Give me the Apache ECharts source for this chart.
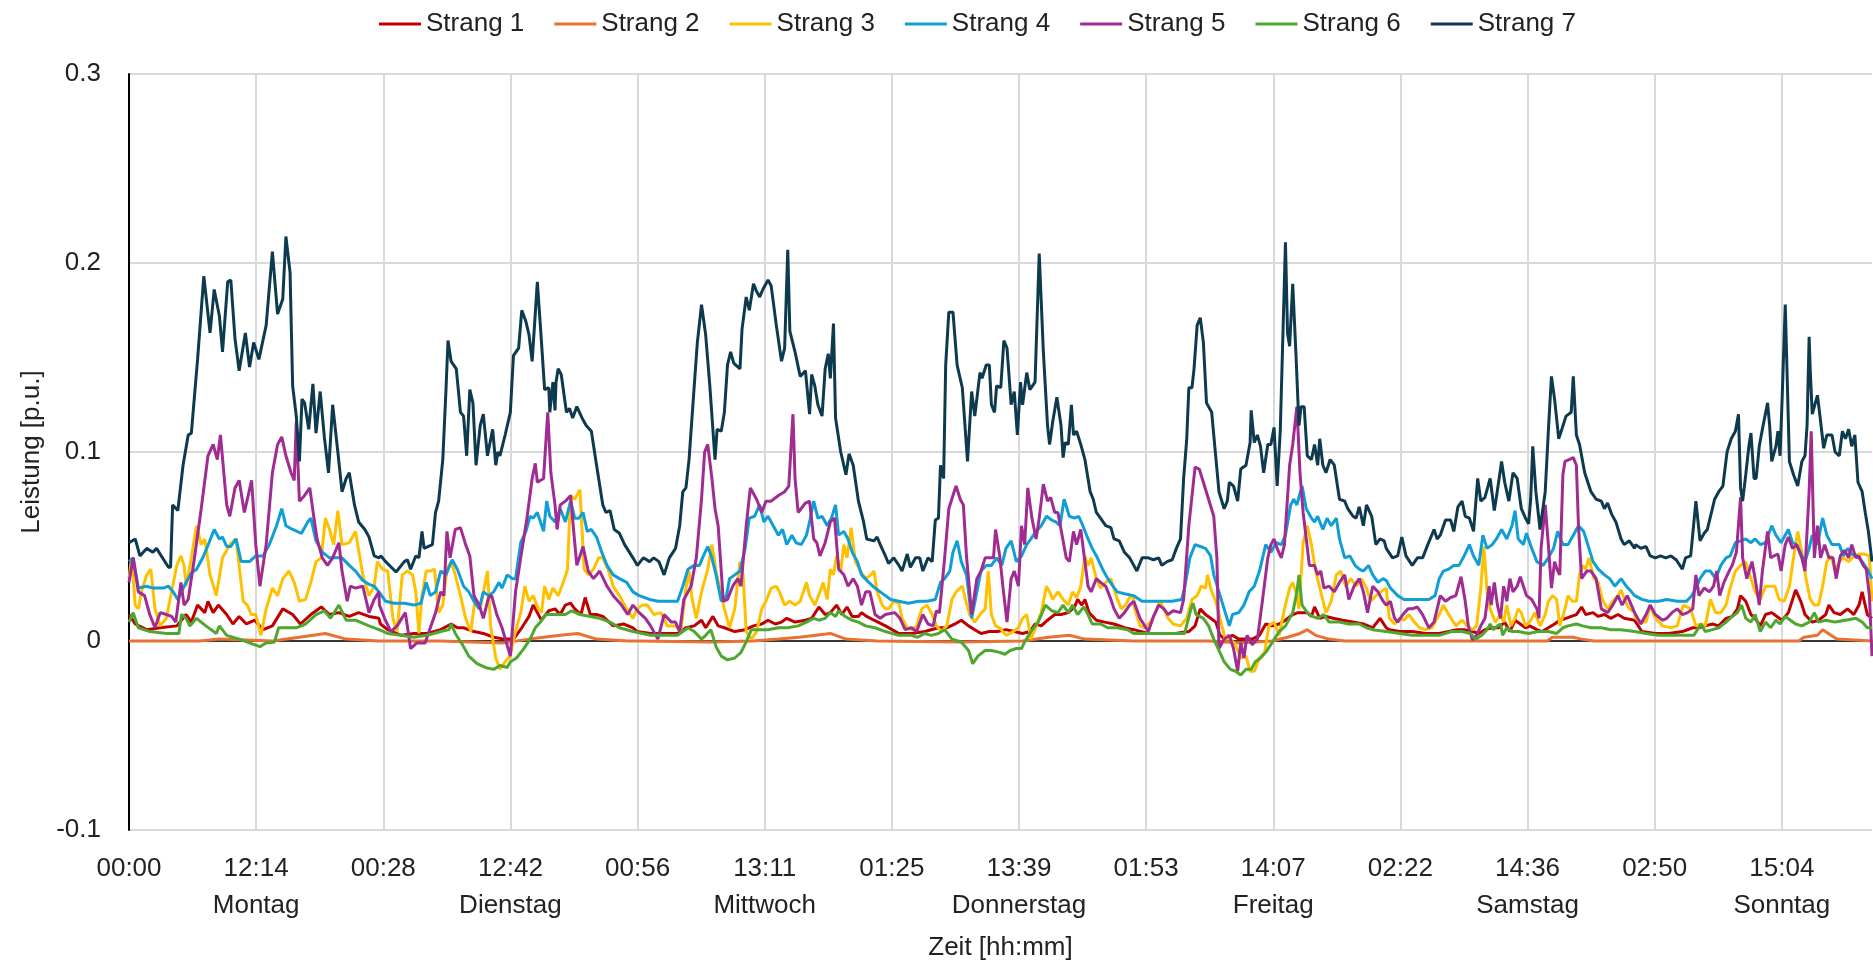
<!DOCTYPE html>
<html>
<head>
<meta charset="utf-8">
<script src="https://cdn.jsdelivr.net/npm/echarts@6/dist/echarts.min.js"></script>
<style>
  html, body { margin: 0; padding: 0; background: #fff; }
  #chart { width: 1873px; height: 964px; }
</style>
</head>
<body>
<div id="chart"></div>
<script>
// Zeit in Stunden ab Montag 00:00, Leistung in p.u.
const seriesNames = ['Strang 1', 'Strang 2', 'Strang 3', 'Strang 4', 'Strang 5', 'Strang 6', 'Strang 7'];
const seriesColors = ['#C00000', '#E97132', '#FFC000', '#0F9ED5', '#A02B93', '#4EA72E', '#0D3A4E'];

// x-Achse: Beschriftung alle 12:14 h
const tickStep = 734.17 / 60;
const tickLabels = ['00:00', '12:14', '00:28', '12:42', '00:56', '13:11', '01:25', '13:39', '01:53', '14:07', '02:22', '14:36', '02:50', '15:04'];
const dayNames = ['', 'Montag', '', 'Dienstag', '', 'Mittwoch', '', 'Donnerstag', '', 'Freitag', '', 'Samstag', '', 'Sonntag'];
const xMax = 167.75;

const strang1 = [
  [0,0.014],[0.6,0.009],[1.7,0.006],[3.0,0.007],[4.6,0.008],[5.5,0.014],[6.0,0.01],[6.6,0.019],[7.3,0.015],[7.6,0.021],[8.1,0.015],[8.6,0.019],[9.4,0.014],[10.0,0.009],[10.6,0.013],[11.3,0.009],[12.1,0.011],[12.9,0.006],[13.8,0.008],[14.8,0.017],[15.75,0.014],[16.5,0.009],[17.5,0.014],[18.5,0.018],[19.3,0.014],[20.2,0.015],[21.2,0.013],[22.1,0.015],[23.1,0.013],[24.05,0.012],
  [24.2,0.009],[24.9,0.006],[26.2,0.003],[27.4,0.004],[28.7,0.004],[30.0,0.006],[31.0,0.009],[31.6,0.007],[32.2,0.007],[33.2,0.005],[34.1,0.004],[35.1,0.002],[36.1,0.001],[37.0,0.001],[37.8,0.007],[38.5,0.013],[38.9,0.019],[39.3,0.015],[39.7,0.011],[40.4,0.016],[41.0,0.017],[41.5,0.014],[42.0,0.019],[42.5,0.02],[42.9,0.017],[43.5,0.014],[43.9,0.023],[44.4,0.014],[45.0,0.014],[45.6,0.013],[46.6,0.008],[47.6,0.009],[48.5,0.007],
  [48.9,0.005],[50.2,0.004],[51.5,0.004],[52.8,0.004],[53.6,0.007],[54.4,0.008],[55.1,0.011],[55.5,0.007],[56.2,0.013],[56.7,0.008],[57.3,0.007],[58.3,0.005],[59.3,0.006],[60.1,0.008],[60.9,0.009],[61.5,0.011],[62.2,0.009],[62.8,0.01],[63.3,0.012],[64.1,0.01],[65.1,0.011],[65.7,0.012],[66.4,0.018],[67.0,0.014],[67.5,0.015],[68.1,0.019],[68.6,0.014],[69.1,0.018],[69.6,0.013],[70.2,0.013],[70.5,0.015],[71.0,0.013],[71.7,0.011],[72.8,0.008],
  [74.1,0.004],[75.3,0.004],[76.6,0.005],[77.9,0.007],[78.7,0.007],[79.5,0.009],[80.1,0.011],[80.8,0.008],[81.4,0.006],[82.0,0.004],[82.8,0.005],[83.6,0.005],[84.4,0.006],[85.2,0.005],[86.0,0.004],[86.7,0.005],[87.2,0.009],[87.8,0.008],[88.4,0.011],[89.1,0.014],[89.7,0.014],[90.4,0.015],[91.0,0.018],[91.3,0.022],[91.7,0.019],[92.0,0.022],[92.4,0.015],[93.1,0.011],[93.9,0.01],[94.8,0.009],[95.8,0.007],[96.7,0.006],
  [98.1,0.004],[99.4,0.004],[100.7,0.004],[102.0,0.005],[102.6,0.008],[103.1,0.017],[103.6,0.014],[104.1,0.012],[104.6,0.01],[105.0,0.003],[105.5,0.001],[106.2,0.003],[106.8,0.001],[107.5,0.001],[108.1,0.001],[108.8,0.003],[109.4,0.009],[110.0,0.008],[110.7,0.009],[111.3,0.011],[112.0,0.014],[112.5,0.015],[113.0,0.015],[113.4,0.015],[113.8,0.013],[114.1,0.018],[114.6,0.012],[115.2,0.013],[115.9,0.012],[116.8,0.011],[117.8,0.01],[118.8,0.009],[119.7,0.007],[120.4,0.012],[121.0,0.007],
  [121.3,0.006],[122.3,0.005],[123.5,0.005],[124.8,0.004],[126.1,0.004],[127.0,0.005],[127.8,0.006],[128.5,0.006],[129.3,0.005],[129.9,0.004],[130.5,0.006],[131.2,0.007],[131.8,0.007],[132.4,0.01],[132.9,0.005],[133.4,0.011],[133.9,0.009],[134.4,0.007],[134.8,0.008],[135.5,0.006],[136.0,0.005],[136.6,0.007],[137.2,0.009],[137.7,0.011],[138.3,0.012],[138.8,0.013],[139.3,0.014],[139.8,0.018],[140.2,0.014],[140.9,0.015],[141.4,0.013],[142.0,0.014],[142.6,0.012],[143.3,0.014],[143.9,0.012],[144.9,0.011],
  [145.6,0.005],[146.9,0.004],[148.2,0.004],[149.5,0.005],[150.5,0.007],[151.1,0.007],[151.7,0.008],[152.4,0.009],[153.0,0.008],[153.7,0.012],[154.3,0.013],[154.8,0.017],[155.1,0.024],[155.6,0.021],[156.1,0.014],[156.5,0.012],[157.0,0.008],[157.5,0.014],[158.1,0.015],[158.6,0.013],[159.1,0.011],[159.7,0.015],[160.4,0.027],[160.9,0.021],[161.3,0.014],[162.0,0.01],[162.6,0.011],[163.3,0.014],[163.6,0.019],[164.1,0.015],[164.7,0.014],[165.4,0.017],[166.0,0.014],[166.5,0.019],[166.8,0.026],[167.3,0.014],[167.75,0.012]
];

const strang2 = [
  [0,0],[6.8,0],[8.7,0.001],[13.8,0],[16.4,0.002],[18.9,0.004],[20.9,0.001],[24,0],[30,0],[33,-0.0005],[36,-0.001],[38.5,0.001],[41.5,0.003],[43.2,0.004],[45,0.001],[48,0],
  [49,0],[56,-0.0005],[60,0],[62.5,0.001],[64.5,0.002],[67.5,0.004],[69,0.001],[72,0],[80,-0.0005],[86,0],[88.5,0.002],[90.5,0.003],[92,0.001],[96.7,0],
  [104,0],[107,-0.001],[110,0],[111.5,0.002],[112.7,0.004],[113.4,0.006],[114.2,0.003],[115.5,0.001],[117,0],[121,0],[136.5,0],[137,0.002],[139,0.002],[139.8,0.001],[141,0],[144.9,0],
  [160.7,0],[161.2,0.002],[162.5,0.003],[163,0.006],[163.8,0.003],[164.4,0.001],[167.75,0]
];

const strang3 = [
  [0,0.033],[0.25,0.044],[0.6,0.019],[0.9,0.017],[1.2,0.026],[1.7,0.035],[2.1,0.038],[2.5,0.017],[3.0,0.008],[3.6,0.012],[4.2,0.029],[4.6,0.04],[5.0,0.045],[5.3,0.04],[5.5,0.029],[6.0,0.044],[6.5,0.061],[6.95,0.051],[7.3,0.054],[7.8,0.035],[8.4,0.024],[9.0,0.044],[9.7,0.051],[10.3,0.054],[11.0,0.021],[11.4,0.019],[11.75,0.014],[12.2,0.014],[12.7,0.003],[13.2,0.017],[13.8,0.028],[14.3,0.024],[14.8,0.033],[15.4,0.037],[15.9,0.031],[16.4,0.021],[17.0,0.022],[17.5,0.031],[18.0,0.042],[18.5,0.044],[18.9,0.065],[19.3,0.059],[19.7,0.051],[20.1,0.069],[20.5,0.051],[21.2,0.052],[21.8,0.058],[22.5,0.035],[23.1,0.024],[23.6,0.029],[23.9,0.042],
  [24.4,0.038],[24.9,0.037],[25.4,0.012],[25.8,0.005],[26.3,0.035],[26.8,0.037],[27.3,0.035],[27.6,0.026],[27.9,0.004],[28.2,0.024],[28.6,0.037],[29.0,0.037],[29.4,0.038],[29.8,0.015],[30.2,0.019],[30.6,0.038],[31.0,0.042],[31.4,0.035],[31.9,0.024],[32.4,0.012],[32.9,0.005],[33.3,0.022],[33.8,0.017],[34.5,0.037],[34.8,0.008],[35.3,-0.009],[35.7,-0.015],[36.2,-0.011],[36.7,-0.008],[37.0,0.001],[37.7,0.015],[38.1,0.029],[38.5,0.021],[38.9,0.024],[39.4,0.017],[39.7,0.015],[40.0,0.029],[40.4,0.022],[40.8,0.028],[41.3,0.024],[41.8,0.031],[42.2,0.038],[42.5,0.077],[42.9,0.075],[43.4,0.08],[43.8,0.038],[44.2,0.035],[44.7,0.038],[45.2,0.044],[45.6,0.044],[46.1,0.038],[46.6,0.029],[47.2,0.024],[47.9,0.017],[48.5,0.012],
  [48.9,0.017],[49.4,0.019],[49.9,0.019],[50.5,0.014],[51.2,0.015],[51.8,0.008],[52.6,0.008],[53.1,0.005],[53.6,0.028],[53.9,0.037],[54.2,0.022],[54.6,0.012],[55.1,0.026],[55.7,0.038],[56.1,0.051],[56.5,0.037],[56.8,0.029],[57.3,0.017],[57.8,0.007],[58.3,0.017],[58.8,0.042],[59.1,0.035],[59.4,0.005],[59.9,0.001],[60.4,0.005],[60.9,0.017],[61.3,0.021],[61.8,0.028],[62.3,0.029],[62.6,0.026],[63.1,0.019],[63.6,0.021],[64.1,0.019],[64.6,0.021],[65.2,0.031],[65.5,0.024],[66.0,0.019],[66.5,0.026],[66.8,0.031],[67.2,0.022],[67.5,0.038],[67.8,0.035],[68.1,0.045],[68.5,0.037],[68.8,0.051],[69.1,0.044],[69.5,0.06],[69.9,0.042],[70.4,0.037],[70.9,0.033],[71.4,0.035],[71.7,0.037],[72.0,0.026],[72.5,0.019],[72.8,0.017],
  [73.1,0.017],[73.6,0.021],[74.1,0.02],[74.4,0.012],[74.9,0.007],[75.3,0.006],[75.8,0.008],[76.3,0.017],[76.8,0.019],[77.3,0.014],[77.7,0.008],[78.2,0.005],[78.7,0.008],[79.2,0.022],[79.6,0.026],[80.2,0.029],[80.5,0.022],[80.9,0.014],[81.4,0.01],[81.9,0.014],[82.4,0.017],[82.7,0.037],[83.0,0.014],[83.4,0.008],[83.8,0.007],[84.4,0.003],[85.1,0.005],[85.6,0.007],[86.0,0.012],[86.4,0.014],[86.8,0.001],[87.3,0.008],[87.8,0.015],[88.3,0.029],[88.6,0.026],[88.9,0.022],[89.4,0.026],[89.9,0.022],[90.4,0.019],[90.8,0.026],[91.2,0.023],[91.6,0.029],[92.0,0.045],[92.3,0.04],[92.6,0.044],[93.1,0.033],[93.5,0.028],[94.0,0.031],[94.5,0.033],[95.0,0.024],[95.5,0.017],[95.9,0.019],[96.4,0.024],[96.7,0.022],
  [96.8,0.017],[97.3,0.008],[97.8,0.007],[98.3,0.01],[98.8,0.015],[99.2,0.021],[99.6,0.017],[100.0,0.012],[100.5,0.009],[101.2,0.008],[101.8,0.012],[102.3,0.022],[102.8,0.024],[103.2,0.029],[103.6,0.028],[103.8,0.035],[104.2,0.026],[104.6,0.021],[105.0,0.012],[105.5,0.001],[106.0,0.001],[106.5,-0.002],[107.0,-0.009],[107.5,-0.008],[107.9,-0.016],[108.3,-0.016],[108.8,-0.009],[109.3,-0.006],[109.7,0.008],[110.2,0.01],[110.7,0.003],[111.2,0.017],[111.7,0.028],[112.0,0.031],[112.3,0.026],[112.6,0.017],[113.0,0.052],[113.4,0.061],[113.8,0.051],[114.2,0.037],[114.7,0.026],[115.2,0.015],[115.7,0.021],[116.2,0.035],[116.6,0.037],[117.1,0.029],[117.6,0.033],[118.1,0.029],[118.6,0.033],[119.1,0.028],[119.5,0.021],[120.0,0.024],[120.5,0.026],[121.0,0.028],
  [121.3,0.012],[121.8,0.009],[122.3,0.012],[122.7,0.011],[123.2,0.014],[123.7,0.01],[124.2,0.007],[124.8,0.006],[125.4,0.007],[126.1,0.014],[126.5,0.019],[127.0,0.014],[127.7,0.008],[128.3,0.011],[128.8,0.008],[129.3,0.006],[129.7,0.008],[130.1,0.028],[130.4,0.05],[130.7,0.026],[131.0,0.017],[131.5,0.01],[132.0,0.014],[132.3,0.01],[132.6,0.019],[133.0,0.008],[133.4,0.012],[133.7,0.017],[134.0,0.015],[134.4,0.008],[134.8,0.01],[135.3,0.015],[135.8,0.008],[136.3,0.014],[136.6,0.021],[137.0,0.024],[137.4,0.022],[137.7,0.008],[138.1,0.015],[138.5,0.024],[138.9,0.021],[139.3,0.021],[139.6,0.035],[139.9,0.04],[140.2,0.038],[140.5,0.044],[141.0,0.033],[141.4,0.031],[141.8,0.022],[142.3,0.017],[142.8,0.021],[143.3,0.024],[143.6,0.027],[144.0,0.021],[144.4,0.017],[144.9,0.015],
  [145.0,0.012],[145.6,0.01],[146.0,0.01],[146.4,0.019],[146.9,0.012],[147.6,0.008],[148.4,0.007],[149.0,0.008],[149.6,0.019],[150.3,0.017],[150.8,0.008],[151.3,0.009],[151.7,0.008],[152.2,0.022],[152.7,0.015],[153.2,0.015],[153.7,0.019],[154.1,0.028],[154.6,0.037],[155.1,0.04],[155.6,0.042],[156.1,0.033],[156.5,0.026],[157.0,0.022],[157.5,0.029],[158.0,0.029],[158.4,0.029],[158.8,0.022],[159.3,0.021],[159.8,0.029],[160.2,0.044],[160.6,0.058],[161.0,0.047],[161.4,0.033],[161.8,0.022],[162.2,0.019],[162.6,0.019],[163.0,0.029],[163.4,0.042],[163.8,0.045],[164.2,0.037],[164.6,0.042],[165.0,0.044],[165.5,0.042],[166.0,0.045],[166.5,0.046],[167.0,0.046],[167.5,0.045],[167.75,0.021]
];

const strang4 = [
  [0,0.042],[0.4,0.044],[0.9,0.028],[1.7,0.029],[2.3,0.028],[3.3,0.028],[3.8,0.029],[4.25,0.026],[4.7,0.022],[5.4,0.03],[6.0,0.036],[6.5,0.038],[7.1,0.044],[7.7,0.052],[8.2,0.059],[8.7,0.054],[9.0,0.055],[9.4,0.05],[9.8,0.05],[10.3,0.054],[10.8,0.042],[11.6,0.042],[12.2,0.045],[12.9,0.045],[13.5,0.051],[14.2,0.061],[14.7,0.07],[15.1,0.061],[15.75,0.059],[16.6,0.057],[17.2,0.063],[17.5,0.065],[18.0,0.053],[18.6,0.047],[19.3,0.044],[19.9,0.044],[20.5,0.044],[21.2,0.04],[21.8,0.037],[22.5,0.032],[23.1,0.03],[23.6,0.029],[24.05,0.026],
  [24.7,0.021],[25.5,0.02],[26.5,0.02],[27.4,0.019],[28.1,0.02],[28.6,0.031],[29.0,0.024],[29.5,0.026],[30.0,0.037],[30.5,0.035],[31.1,0.043],[31.6,0.038],[32.2,0.029],[32.7,0.026],[33.2,0.021],[33.7,0.017],[34.1,0.026],[34.6,0.024],[35.1,0.026],[35.6,0.031],[35.9,0.028],[36.4,0.035],[36.9,0.033],[37.2,0.033],[37.7,0.052],[38.2,0.058],[38.6,0.066],[38.9,0.065],[39.3,0.068],[39.9,0.058],[40.2,0.074],[40.5,0.066],[41.0,0.063],[41.5,0.07],[42.0,0.063],[42.5,0.074],[42.9,0.065],[43.3,0.065],[43.7,0.068],[44.1,0.058],[44.5,0.059],[45.0,0.055],[45.5,0.047],[46.0,0.04],[46.6,0.035],[47.2,0.033],[47.9,0.031],[48.5,0.026],
  [49.1,0.024],[50.1,0.022],[50.9,0.021],[51.8,0.021],[52.8,0.021],[53.3,0.029],[53.8,0.038],[54.4,0.04],[54.9,0.04],[55.2,0.044],[55.7,0.05],[56.1,0.044],[56.5,0.035],[57.0,0.021],[57.5,0.024],[57.8,0.033],[58.3,0.035],[58.8,0.037],[59.3,0.049],[59.7,0.065],[60.2,0.066],[60.7,0.072],[61.1,0.063],[61.5,0.066],[62.0,0.061],[62.5,0.056],[62.9,0.059],[63.3,0.051],[63.8,0.056],[64.2,0.052],[64.7,0.051],[65.2,0.056],[65.5,0.063],[65.9,0.074],[66.3,0.065],[66.7,0.066],[67.2,0.061],[67.6,0.065],[68.0,0.072],[68.3,0.056],[68.8,0.058],[69.2,0.054],[69.6,0.047],[70.1,0.042],[70.5,0.035],[71.2,0.031],[71.8,0.028],[72.3,0.026],[72.8,0.024],
  [73.3,0.022],[74.1,0.021],[75.0,0.02],[76.0,0.021],[76.8,0.021],[77.6,0.022],[78.1,0.031],[78.5,0.033],[79.0,0.037],[79.3,0.047],[79.7,0.053],[80.1,0.042],[80.6,0.035],[81.1,0.012],[81.6,0.026],[82.0,0.037],[82.5,0.04],[83.0,0.04],[83.5,0.044],[84.0,0.04],[84.4,0.049],[84.9,0.053],[85.4,0.042],[85.9,0.045],[86.4,0.051],[86.8,0.054],[87.3,0.058],[87.8,0.061],[88.3,0.066],[88.8,0.064],[89.2,0.063],[89.6,0.061],[90.0,0.075],[90.5,0.066],[91.0,0.065],[91.4,0.066],[91.8,0.061],[92.3,0.054],[92.7,0.049],[93.2,0.044],[93.7,0.038],[94.2,0.033],[94.7,0.029],[95.1,0.026],[95.8,0.025],[96.7,0.024],
  [97.5,0.021],[98.4,0.021],[99.4,0.021],[100.4,0.021],[101.3,0.022],[101.6,0.028],[102.1,0.044],[102.6,0.051],[103.1,0.05],[103.6,0.049],[104.1,0.045],[104.4,0.035],[104.9,0.026],[105.4,0.017],[105.9,0.008],[106.2,0.014],[106.8,0.015],[107.3,0.019],[107.8,0.026],[108.3,0.029],[108.8,0.037],[109.1,0.044],[109.4,0.051],[109.9,0.047],[110.4,0.052],[110.9,0.051],[111.3,0.056],[111.8,0.072],[112.1,0.075],[112.4,0.072],[112.9,0.082],[113.3,0.07],[113.8,0.065],[114.1,0.063],[114.4,0.066],[114.9,0.059],[115.3,0.065],[115.7,0.061],[116.2,0.065],[116.5,0.054],[117.0,0.044],[117.5,0.045],[118.0,0.04],[118.4,0.038],[118.8,0.037],[119.3,0.04],[119.7,0.035],[120.2,0.031],[120.7,0.033],[121.0,0.032],
  [121.4,0.028],[122.1,0.024],[122.7,0.022],[123.5,0.022],[124.3,0.022],[125.1,0.022],[125.7,0.024],[126.1,0.033],[126.5,0.037],[127.0,0.038],[127.5,0.04],[128.0,0.04],[128.5,0.045],[129.0,0.051],[129.4,0.045],[129.9,0.04],[130.3,0.056],[130.7,0.049],[131.2,0.051],[131.6,0.054],[132.1,0.059],[132.6,0.054],[133.1,0.061],[133.4,0.069],[133.7,0.054],[134.2,0.051],[134.5,0.057],[135.0,0.049],[135.5,0.042],[136.1,0.04],[136.6,0.044],[137.1,0.049],[137.5,0.058],[138.0,0.051],[138.5,0.051],[139.0,0.056],[139.5,0.061],[140.0,0.058],[140.4,0.051],[140.9,0.042],[141.4,0.038],[142.0,0.035],[142.5,0.033],[143.0,0.029],[143.6,0.033],[144.1,0.029],[144.6,0.026],[144.9,0.024],
  [145.6,0.022],[146.3,0.021],[147.2,0.021],[148.0,0.022],[149.0,0.021],[149.9,0.021],[150.4,0.024],[150.8,0.028],[151.2,0.033],[151.7,0.037],[152.2,0.037],[152.7,0.033],[153.2,0.04],[153.7,0.044],[154.1,0.045],[154.6,0.052],[155.1,0.053],[155.6,0.054],[156.1,0.052],[156.5,0.054],[157.0,0.051],[157.5,0.052],[158.1,0.061],[158.5,0.056],[159.0,0.052],[159.7,0.059],[160.1,0.052],[160.5,0.051],[161.0,0.045],[161.3,0.042],[161.7,0.049],[162.0,0.056],[162.5,0.051],[163.0,0.065],[163.4,0.056],[163.9,0.051],[164.6,0.051],[165.0,0.045],[165.4,0.049],[165.8,0.046],[166.3,0.045],[166.8,0.042],[167.3,0.038],[167.75,0.033]
];

const strang5 = [
  [0,0.031],[0.4,0.044],[0.9,0.026],[1.5,0.024],[2.0,0.014],[2.5,0.007],[3.0,0.015],[3.6,0.014],[4.1,0.013],[4.5,0.01],[5.0,0.031],[5.3,0.019],[5.7,0.022],[6.3,0.044],[6.95,0.07],[7.6,0.098],[8.1,0.104],[8.5,0.096],[8.8,0.109],[9.4,0.072],[9.7,0.066],[10.2,0.081],[10.6,0.085],[11.1,0.068],[11.8,0.085],[12.2,0.051],[12.6,0.029],[13.2,0.051],[13.8,0.089],[14.3,0.104],[14.7,0.108],[15.1,0.098],[15.6,0.089],[15.9,0.085],[16.1,0.116],[16.4,0.074],[16.9,0.077],[17.4,0.081],[17.8,0.065],[18.1,0.054],[18.6,0.044],[19.1,0.04],[19.6,0.044],[20.2,0.052],[20.5,0.037],[21.0,0.021],[21.3,0.029],[21.8,0.028],[22.5,0.029],[23.1,0.015],[23.6,0.022],[24.05,0.026],
  [24.1,0.019],[24.6,0.012],[25.2,0.005],[25.8,0.008],[26.6,0.015],[27.1,-0.004],[27.7,-0.001],[28.5,-0.001],[29.0,0.007],[29.5,0.015],[30.0,0.026],[30.3,0.024],[30.6,0.058],[30.9,0.044],[31.4,0.059],[31.9,0.06],[32.4,0.051],[32.8,0.045],[33.2,0.024],[33.7,0.019],[34.1,0.012],[34.6,0.023],[34.9,0.024],[35.4,0.014],[35.9,0.007],[36.7,-0.008],[37.2,0.026],[37.7,0.044],[38.3,0.065],[38.8,0.086],[39.1,0.094],[39.3,0.084],[39.9,0.086],[40.3,0.121],[40.6,0.089],[41.0,0.072],[41.2,0.059],[41.5,0.072],[42.0,0.074],[42.5,0.077],[42.8,0.058],[43.1,0.04],[43.7,0.05],[44.2,0.037],[44.7,0.033],[45.3,0.037],[46.0,0.029],[46.6,0.024],[47.4,0.019],[48.0,0.014],[48.5,0.019],
  [49.1,0.015],[49.7,0.012],[50.2,0.008],[50.9,0.001],[51.5,0.014],[52.2,0.01],[52.6,0.01],[53.0,0.005],[53.4,0.022],[54.1,0.029],[54.6,0.044],[55.1,0.075],[55.4,0.1],[55.7,0.104],[56.1,0.086],[56.4,0.07],[56.7,0.061],[57.2,0.021],[57.6,0.022],[58.1,0.029],[58.6,0.033],[58.9,0.029],[59.4,0.061],[59.8,0.081],[60.4,0.075],[60.9,0.068],[61.3,0.074],[61.8,0.074],[62.5,0.077],[63.1,0.079],[63.5,0.082],[63.9,0.12],[64.1,0.086],[64.4,0.068],[65.1,0.073],[65.5,0.074],[65.9,0.054],[66.2,0.052],[66.5,0.045],[67.0,0.052],[67.5,0.063],[67.9,0.065],[68.3,0.038],[68.8,0.035],[69.2,0.029],[69.7,0.033],[70.1,0.029],[70.5,0.019],[70.9,0.026],[71.3,0.026],[71.8,0.014],[72.3,0.012],[72.8,0.014],
  [73.7,0.015],[74.2,0.012],[74.7,0.006],[75.3,0.007],[75.8,0.005],[76.4,0.014],[76.9,0.009],[77.4,0.008],[77.7,0.016],[78.0,0.015],[78.5,0.044],[78.9,0.07],[79.3,0.077],[79.6,0.082],[80.0,0.075],[80.3,0.072],[80.6,0.045],[81.1,0.014],[81.6,0.033],[82.0,0.037],[82.4,0.044],[82.8,0.044],[83.2,0.044],[83.4,0.059],[83.8,0.045],[84.1,0.029],[84.5,0.01],[84.9,0.033],[85.2,0.037],[85.6,0.029],[85.9,0.061],[86.2,0.051],[86.5,0.081],[86.9,0.065],[87.3,0.054],[87.6,0.065],[88.0,0.083],[88.4,0.074],[88.7,0.076],[89.1,0.068],[89.4,0.068],[89.7,0.059],[90.2,0.044],[90.5,0.042],[90.9,0.058],[91.2,0.051],[91.6,0.059],[92.0,0.042],[92.3,0.029],[92.6,0.026],[93.1,0.033],[93.5,0.031],[94.0,0.029],[94.5,0.022],[94.8,0.017],[95.3,0.012],[95.8,0.015],[96.3,0.019],[96.7,0.021],
  [97.3,0.012],[98.1,0.005],[98.6,0.013],[99.1,0.019],[99.6,0.017],[100.0,0.014],[100.5,0.016],[101.2,0.015],[101.5,0.022],[102.0,0.061],[102.6,0.092],[103.0,0.091],[103.4,0.084],[103.9,0.075],[104.4,0.066],[104.7,0.044],[104.9,-0.004],[105.4,0.001],[105.9,0.003],[106.3,-0.004],[106.7,-0.016],[107.0,-0.001],[107.3,-0.009],[107.6,0.003],[108.1,-0.002],[108.6,0.001],[109.1,0.022],[109.6,0.044],[109.9,0.051],[110.2,0.054],[110.5,0.049],[110.9,0.044],[111.2,0.051],[111.7,0.093],[112.0,0.104],[112.4,0.124],[112.7,0.089],[113.0,0.068],[113.3,0.054],[113.6,0.04],[114.1,0.04],[114.4,0.035],[114.7,0.037],[115.0,0.028],[115.5,0.029],[116.0,0.026],[116.5,0.031],[117.0,0.035],[117.4,0.022],[117.9,0.029],[118.4,0.033],[118.8,0.026],[119.2,0.015],[119.7,0.029],[120.2,0.026],[120.7,0.021],[121.0,0.019],
  [121.4,0.021],[121.8,0.012],[122.1,0.01],[122.6,0.014],[123.1,0.017],[123.5,0.017],[124.0,0.018],[124.5,0.014],[125.1,0.007],[125.6,0.01],[126.2,0.024],[126.7,0.021],[127.2,0.023],[127.7,0.024],[128.2,0.034],[128.6,0.021],[128.9,0.008],[129.3,0.0005],[129.7,0.003],[130.1,0.008],[130.5,0.012],[130.9,0.029],[131.1,0.019],[131.4,0.031],[131.7,0.019],[132.0,0.012],[132.3,0.029],[132.6,0.021],[132.9,0.033],[133.2,0.026],[133.6,0.029],[133.9,0.034],[134.2,0.029],[134.5,0.024],[135.0,0.022],[135.5,0.017],[135.7,0.012],[135.9,0.049],[136.3,0.072],[136.6,0.051],[136.9,0.028],[137.2,0.042],[137.5,0.037],[137.7,0.035],[138.0,0.088],[138.2,0.095],[138.6,0.096],[139.0,0.097],[139.3,0.093],[139.5,0.061],[139.8,0.033],[140.3,0.037],[140.7,0.037],[141.2,0.033],[141.7,0.017],[142.3,0.015],[142.8,0.019],[143.3,0.024],[143.7,0.019],[144.2,0.024],[144.9,0.015],
  [145.5,0.009],[146.0,0.014],[146.4,0.019],[146.9,0.014],[147.6,0.011],[148.0,0.012],[148.5,0.015],[149.0,0.017],[149.5,0.014],[150.0,0.015],[150.5,0.017],[150.8,0.035],[151.1,0.024],[151.6,0.028],[152.1,0.026],[152.5,0.029],[152.8,0.037],[153.1,0.024],[153.5,0.031],[154.0,0.037],[154.3,0.04],[154.7,0.047],[155.1,0.076],[155.3,0.044],[155.7,0.033],[156.2,0.042],[156.5,0.033],[156.9,0.019],[157.2,0.037],[157.7,0.058],[158.0,0.044],[158.3,0.045],[158.7,0.046],[159.0,0.037],[159.4,0.051],[159.7,0.055],[160.1,0.049],[160.5,0.051],[161.0,0.044],[161.3,0.037],[161.7,0.079],[161.9,0.111],[162.2,0.044],[162.5,0.061],[162.8,0.044],[163.2,0.051],[163.6,0.044],[164.0,0.044],[164.3,0.033],[164.7,0.045],[165.1,0.048],[165.5,0.044],[165.8,0.051],[166.2,0.044],[166.5,0.045],[166.9,0.04],[167.2,0.038],[167.5,0.024],[167.75,-0.008]
];

const strang6 = [
  [0,0.01],[0.4,0.015],[0.9,0.007],[2.0,0.005],[3.6,0.004],[4.8,0.004],[5.05,0.014],[5.5,0.012],[5.85,0.008],[6.5,0.012],[7.4,0.008],[8.4,0.004],[8.7,0.008],[9.4,0.003],[10.6,0.001],[11.6,-0.001],[12.6,-0.003],[13.2,-0.001],[14.0,-0.0005],[14.4,0.007],[15.1,0.007],[16.1,0.007],[17.0,0.009],[18.0,0.014],[18.8,0.016],[19.4,0.012],[20.2,0.019],[20.9,0.011],[21.8,0.011],[23.1,0.008],[24.05,0.006],
  [24.9,0.004],[26.2,0.003],[27.4,0.002],[28.7,0.003],[30.0,0.005],[30.8,0.006],[31.0,0.009],[31.4,0.004],[32.1,-0.002],[32.7,-0.008],[33.5,-0.012],[34.3,-0.014],[35.1,-0.015],[35.7,-0.013],[36.4,-0.014],[36.7,-0.011],[37.3,-0.009],[38.0,-0.004],[38.6,0.001],[39.1,0.007],[39.6,0.01],[40.1,0.014],[40.5,0.014],[41.2,0.014],[42.0,0.014],[42.6,0.016],[43.4,0.014],[44.4,0.013],[45.3,0.012],[46.3,0.01],[47.2,0.007],[48.5,0.005],
  [50.2,0.003],[51.5,0.003],[52.8,0.003],[53.8,0.007],[54.4,0.005],[55.1,0.001],[55.5,0.003],[56.0,0.006],[56.5,-0.003],[57.0,-0.008],[57.6,-0.01],[58.3,-0.009],[58.9,-0.006],[59.4,-0.0005],[59.9,0.006],[60.5,0.006],[61.5,0.006],[62.5,0.007],[63.4,0.007],[64.4,0.008],[65.2,0.01],[65.9,0.012],[66.4,0.011],[67.0,0.012],[67.5,0.015],[68.0,0.013],[68.3,0.016],[68.9,0.013],[69.6,0.011],[70.2,0.01],[70.9,0.008],[71.8,0.007],[72.8,0.005],
  [74.1,0.003],[75.3,0.003],[75.9,0.002],[76.6,0.004],[77.2,0.003],[77.9,0.004],[78.5,0.006],[79.2,0.001],[80.1,-0.0005],[80.8,-0.005],[81.2,-0.012],[81.7,-0.008],[82.4,-0.005],[83.0,-0.005],[83.8,-0.006],[84.3,-0.007],[84.8,-0.005],[85.4,-0.004],[85.9,-0.004],[86.2,-0.0005],[86.8,0.005],[87.5,0.01],[88.2,0.019],[88.8,0.016],[89.4,0.015],[89.9,0.019],[90.4,0.015],[90.8,0.019],[91.3,0.014],[91.9,0.018],[92.3,0.014],[92.7,0.009],[93.5,0.009],[94.2,0.007],[95.1,0.007],[96.1,0.006],[96.7,0.004],
  [98.1,0.004],[99.4,0.004],[100.7,0.004],[101.6,0.004],[102.2,0.017],[102.4,0.02],[102.7,0.014],[103.4,0.012],[103.9,0.008],[104.4,0.001],[104.9,-0.005],[105.4,-0.011],[106.0,-0.015],[106.5,-0.016],[107.0,-0.018],[107.5,-0.015],[108.0,-0.015],[108.4,-0.011],[108.9,-0.009],[109.4,-0.006],[110.0,-0.001],[110.7,0.005],[111.3,0.008],[112.0,0.015],[112.4,0.026],[112.6,0.035],[112.9,0.019],[113.4,0.015],[113.9,0.013],[114.4,0.012],[115.0,0.014],[115.5,0.01],[116.5,0.01],[117.4,0.009],[118.4,0.009],[119.1,0.007],[119.7,0.006],[121.0,0.005],
  [122.3,0.004],[123.5,0.003],[124.8,0.003],[126.1,0.003],[127.3,0.005],[128.3,0.005],[129.1,0.004],[129.6,0.001],[130.2,0.003],[130.7,0.006],[131.0,0.009],[131.3,0.006],[131.7,0.008],[132.0,0.009],[132.2,0.003],[132.6,0.007],[133.1,0.005],[133.7,0.005],[134.7,0.004],[135.6,0.005],[136.6,0.005],[137.4,0.004],[138.0,0.007],[138.5,0.008],[139.3,0.009],[139.9,0.008],[140.7,0.007],[141.7,0.007],[142.6,0.006],[143.6,0.006],[144.9,0.005],
  [146.0,0.004],[147.2,0.003],[148.5,0.003],[149.8,0.003],[150.6,0.003],[151.3,0.009],[151.7,0.005],[152.4,0.006],[153.0,0.007],[153.7,0.01],[154.3,0.013],[154.8,0.015],[155.2,0.019],[155.6,0.012],[156.1,0.01],[156.5,0.014],[157.0,0.005],[157.5,0.01],[158.0,0.007],[158.5,0.011],[158.9,0.009],[159.4,0.013],[159.9,0.011],[160.4,0.009],[161.0,0.008],[161.7,0.01],[162.2,0.015],[162.6,0.01],[163.3,0.011],[164.2,0.01],[165.2,0.011],[166.2,0.012],[166.8,0.01],[167.3,0.007],[167.75,0.007]
];

const strang7 = [
  [0,0.052],[0.6,0.054],[1.05,0.045],[1.7,0.049],[2.3,0.047],[2.65,0.049],[3.8,0.039],[4.0,0.039],[4.2,0.072],[4.7,0.069],[5.2,0.093],[5.7,0.109],[6.0,0.11],[6.6,0.149],[7.2,0.193],[7.8,0.163],[8.2,0.186],[8.7,0.172],[9.0,0.153],[9.5,0.19],[9.8,0.191],[10.2,0.16],[10.6,0.143],[11.2,0.163],[11.6,0.145],[12.0,0.158],[12.5,0.149],[13.2,0.167],[13.8,0.206],[14.3,0.173],[14.8,0.181],[15.1,0.214],[15.5,0.195],[15.75,0.135],[16.1,0.119],[16.4,0.095],[16.65,0.128],[16.9,0.126],[17.3,0.112],[17.7,0.136],[18.0,0.11],[18.4,0.132],[18.8,0.108],[19.2,0.089],[19.6,0.125],[20.1,0.1],[20.5,0.079],[20.9,0.086],[21.2,0.089],[21.7,0.072],[22.1,0.063],[22.7,0.059],[23.1,0.055],[23.6,0.045],[24.05,0.044],
  [24.25,0.045],[24.7,0.042],[25.7,0.0365],[26.5,0.042],[26.8,0.043],[27.1,0.038],[27.6,0.045],[27.9,0.044],[28.2,0.058],[28.4,0.049],[29.2,0.051],[29.5,0.068],[29.8,0.074],[30.2,0.096],[30.5,0.132],[30.7,0.159],[31.0,0.148],[31.5,0.144],[31.9,0.121],[32.2,0.119],[32.5,0.098],[32.8,0.133],[33.1,0.126],[33.4,0.093],[33.8,0.114],[34.1,0.12],[34.5,0.098],[35.0,0.112],[35.3,0.093],[35.5,0.1],[35.7,0.098],[36.2,0.109],[36.7,0.121],[37.0,0.151],[37.5,0.155],[37.8,0.175],[38.2,0.169],[38.5,0.162],[38.8,0.148],[39.3,0.19],[39.7,0.158],[40.0,0.133],[40.4,0.134],[40.5,0.121],[40.8,0.137],[41.0,0.122],[41.1,0.137],[41.3,0.144],[41.6,0.141],[42.1,0.121],[42.4,0.123],[42.7,0.118],[43.1,0.124],[43.6,0.118],[44.0,0.114],[44.5,0.111],[45.0,0.093],[45.6,0.072],[45.9,0.068],[46.3,0.069],[46.7,0.059],[47.2,0.057],[47.7,0.051],[48.5,0.044],
  [48.93,0.04],[49.5,0.044],[50.1,0.042],[50.5,0.044],[51.0,0.042],[51.5,0.035],[52.0,0.044],[52.6,0.049],[53.0,0.061],[53.3,0.079],[53.6,0.081],[53.9,0.096],[54.4,0.135],[54.7,0.158],[55.1,0.178],[55.5,0.162],[55.9,0.135],[56.4,0.096],[56.6,0.112],[57.0,0.111],[57.3,0.121],[57.6,0.146],[57.9,0.153],[58.2,0.147],[58.8,0.144],[59.0,0.165],[59.4,0.182],[59.7,0.175],[60.1,0.189],[60.4,0.185],[60.7,0.182],[61.0,0.186],[61.5,0.191],[61.8,0.188],[62.3,0.167],[62.8,0.148],[63.1,0.155],[63.4,0.207],[63.6,0.164],[64.1,0.153],[64.6,0.14],[65.1,0.143],[65.5,0.12],[65.7,0.141],[66.0,0.135],[66.3,0.125],[66.7,0.119],[67.0,0.144],[67.3,0.152],[67.5,0.139],[67.8,0.168],[68.0,0.118],[68.5,0.1],[69.0,0.088],[69.3,0.099],[69.7,0.093],[70.2,0.074],[70.7,0.063],[71.0,0.054],[71.7,0.053],[72.0,0.055],[72.3,0.051],[72.8,0.045],
  [73.1,0.041],[73.6,0.044],[74.1,0.04],[74.4,0.037],[74.9,0.046],[75.2,0.039],[75.7,0.044],[76.1,0.044],[76.4,0.037],[76.9,0.044],[77.3,0.042],[77.6,0.064],[77.9,0.065],[78.1,0.093],[78.4,0.086],[78.6,0.146],[78.9,0.174],[79.3,0.174],[79.7,0.146],[80.2,0.134],[80.7,0.095],[81.1,0.132],[81.4,0.119],[81.9,0.142],[82.1,0.139],[82.5,0.146],[82.8,0.146],[83.0,0.125],[83.3,0.121],[83.5,0.135],[83.9,0.134],[84.2,0.159],[84.5,0.155],[84.9,0.125],[85.2,0.132],[85.5,0.109],[85.8,0.137],[86.0,0.125],[86.4,0.142],[86.7,0.133],[87.2,0.137],[87.6,0.205],[88.0,0.153],[88.4,0.114],[88.6,0.104],[88.9,0.116],[89.3,0.129],[89.7,0.114],[89.9,0.097],[90.1,0.105],[90.4,0.104],[90.7,0.125],[90.9,0.109],[91.2,0.111],[91.6,0.104],[92.0,0.096],[92.5,0.079],[92.8,0.075],[93.1,0.068],[93.5,0.065],[94.0,0.061],[94.5,0.06],[94.8,0.054],[95.3,0.053],[95.8,0.047],[96.3,0.044],[96.7,0.04],
  [97.0,0.037],[97.5,0.044],[98.1,0.044],[98.6,0.043],[99.1,0.044],[99.4,0.04],[99.9,0.042],[100.4,0.043],[100.8,0.049],[101.2,0.054],[101.5,0.086],[101.8,0.107],[102.0,0.134],[102.3,0.134],[102.5,0.144],[102.8,0.167],[103.1,0.171],[103.4,0.158],[103.7,0.126],[104.2,0.121],[104.5,0.103],[104.9,0.079],[105.4,0.07],[105.7,0.074],[105.9,0.084],[106.3,0.082],[106.7,0.074],[107.0,0.091],[107.5,0.093],[107.9,0.105],[108.0,0.122],[108.3,0.105],[108.6,0.109],[108.9,0.103],[109.2,0.089],[109.6,0.104],[109.9,0.104],[110.2,0.113],[110.5,0.082],[110.8,0.111],[111.3,0.211],[111.5,0.163],[111.7,0.156],[112.0,0.189],[112.3,0.153],[112.6,0.114],[112.8,0.124],[113.1,0.124],[113.4,0.098],[113.8,0.096],[114.1,0.104],[114.4,0.093],[114.6,0.107],[114.9,0.093],[115.2,0.089],[115.6,0.096],[116.0,0.093],[116.5,0.075],[117.0,0.074],[117.3,0.07],[117.8,0.066],[118.1,0.065],[118.4,0.071],[118.8,0.061],[119.1,0.072],[119.6,0.066],[120.0,0.051],[120.4,0.054],[120.8,0.053],[121.0,0.049],
  [121.1,0.05],[121.6,0.044],[122.1,0.045],[122.5,0.055],[122.9,0.045],[123.5,0.04],[124.0,0.044],[124.5,0.044],[125.0,0.051],[125.6,0.059],[125.9,0.054],[126.2,0.056],[126.7,0.064],[127.2,0.064],[127.5,0.058],[127.9,0.071],[128.3,0.074],[128.6,0.066],[129.0,0.065],[129.4,0.058],[129.8,0.086],[130.1,0.074],[130.5,0.076],[131.0,0.086],[131.4,0.069],[131.6,0.076],[132.1,0.095],[132.4,0.084],[132.8,0.074],[133.2,0.089],[133.6,0.086],[134.0,0.07],[134.4,0.065],[134.7,0.062],[134.9,0.075],[135.1,0.103],[135.4,0.079],[135.8,0.059],[136.3,0.079],[136.6,0.111],[136.9,0.14],[137.2,0.128],[137.6,0.107],[137.9,0.112],[138.3,0.119],[138.8,0.121],[139.0,0.14],[139.3,0.109],[139.6,0.104],[140.1,0.089],[140.7,0.079],[141.2,0.075],[141.7,0.074],[142.0,0.07],[142.3,0.073],[142.7,0.067],[143.1,0.063],[143.6,0.054],[143.9,0.051],[144.4,0.053],[144.9,0.049],
  [145.0,0.051],[145.5,0.049],[146.0,0.05],[146.4,0.045],[146.9,0.044],[147.4,0.045],[147.9,0.044],[148.4,0.045],[148.9,0.043],[149.5,0.038],[149.8,0.044],[150.3,0.045],[150.8,0.074],[151.2,0.053],[151.6,0.057],[151.9,0.059],[152.3,0.068],[152.6,0.075],[153.0,0.079],[153.4,0.082],[153.8,0.1],[154.2,0.107],[154.6,0.111],[154.9,0.12],[155.1,0.081],[155.3,0.074],[155.6,0.088],[155.9,0.103],[156.1,0.11],[156.4,0.086],[156.6,0.086],[156.9,0.103],[157.2,0.112],[157.7,0.126],[157.9,0.114],[158.1,0.095],[158.5,0.103],[158.7,0.111],[158.9,0.098],[159.1,0.128],[159.4,0.178],[159.6,0.137],[159.8,0.095],[160.2,0.088],[160.6,0.082],[161.0,0.095],[161.3,0.098],[161.5,0.114],[161.7,0.161],[161.8,0.144],[162.0,0.12],[162.5,0.13],[162.7,0.121],[163.1,0.102],[163.4,0.109],[163.9,0.109],[164.2,0.1],[164.6,0.098],[164.9,0.111],[165.2,0.107],[165.5,0.112],[165.8,0.103],[166.1,0.109],[166.4,0.084],[166.8,0.079],[167.1,0.068],[167.4,0.058],[167.75,0.042]
];

const allData = [strang1, strang2, strang3, strang4, strang5, strang6, strang7];

const fontFamily = "'Liberation Sans', Arial, sans-serif";
const textColor = '#222';
const gridColor = '#d9d9d9';

function tickFormatter(v) {
  const i = Math.round(v / tickStep);
  if (i < 0 || i >= tickLabels.length || Math.abs(v - i * tickStep) > 0.01) return '';
  return dayNames[i] ? tickLabels[i] + '\n' + dayNames[i] : tickLabels[i];
}

const seriesList = seriesNames.map(function (name, idx) {
  return {
    name: name,
    type: 'line',
    xAxisIndex: 0,
    data: allData[idx],
    showSymbol: false,
    symbol: 'none',
    lineStyle: { color: seriesColors[idx], width: 3 },
    itemStyle: { color: seriesColors[idx] },
    z: 3
  };
});

const myChart = echarts.init(document.getElementById('chart'));
myChart.setOption({
  animation: false,
  backgroundColor: '#fff',
  textStyle: { fontFamily: fontFamily },
  legend: {
    data: seriesNames,
    left: 374,
    top: 6,
    icon: 'rect',
    itemWidth: 42,
    itemHeight: 3,
    itemGap: 30,
    textStyle: { fontSize: 26, color: textColor, fontFamily: fontFamily }
  },
  grid: {
    left: 129,
    right: 1,
    top: 74,
    bottom: 134,
    containLabel: false,
    outerBoundsMode: 'none'
  },
  xAxis: [
    {
      type: 'value',
      min: 0,
      max: xMax,
      interval: tickStep,
      position: 'bottom',
      name: 'Zeit [hh:mm]',
      nameLocation: 'middle',
      nameGap: 105,
      nameTextStyle: { fontSize: 26, color: textColor, fontFamily: fontFamily },
      axisLine: { show: false, onZero: false },
      axisTick: { show: false },
      axisLabel: {
        formatter: tickFormatter,
        fontSize: 26,
        lineHeight: 37,
        color: textColor,
        margin: 20,
        showMinLabel: true,
        showMaxLabel: true
      },
      splitLine: { show: true, showMaxLine: false, lineStyle: { color: gridColor, width: 2 } }
    },
    {
      type: 'value',
      min: 0,
      max: xMax,
      position: 'bottom',
      axisLine: { show: true, onZero: true, lineStyle: { color: '#000', width: 1.5 } },
      axisTick: { show: false },
      axisLabel: { show: false },
      splitLine: { show: false }
    }
  ],
  yAxis: {
    type: 'value',
    min: -0.1,
    max: 0.3,
    interval: 0.1,
    name: 'Leistung [p.u.]',
    nameLocation: 'middle',
    nameGap: 84,
    nameTextStyle: { fontSize: 26, color: textColor, fontFamily: fontFamily },
    axisLine: { show: true, lineStyle: { color: '#000', width: 2 } },
    axisTick: { show: false },
    axisLabel: {
      fontSize: 26,
      color: textColor,
      margin: 28,
      formatter: function (v) { return String(Math.round(v * 10) / 10); }
    },
    splitLine: { show: true, lineStyle: { color: gridColor, width: 2 } }
  },
  series: seriesList
});
</script>
</body>
</html>
